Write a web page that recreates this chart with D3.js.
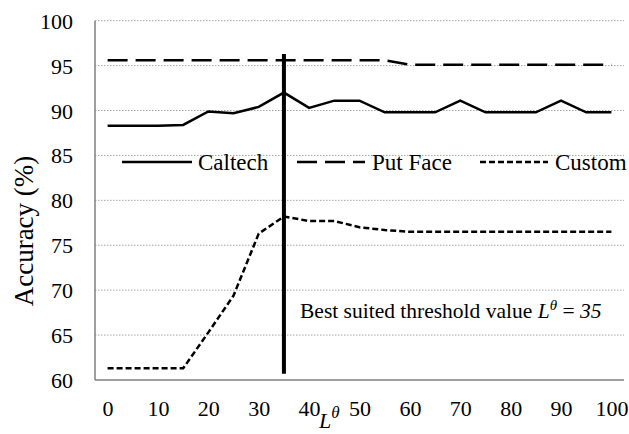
<!DOCTYPE html>
<html>
<head>
<meta charset="utf-8">
<script src="https://cdn.jsdelivr.net/npm/d3@7/dist/d3.min.js"></script>
<style>
  html, body { margin: 0; padding: 0; background: #fff; }
  svg text { font-family: "Liberation Serif", "Times New Roman", serif !important; }
</style>
</head>
<body>
<svg id="chart" width="629" height="434"></svg>
<script>
// ---- data ----
const thresholds = [0,5,10,15,20,25,30,35,40,45,50,55,60,65,70,75,80,85,90,95,100];
const caltech = [88.3,88.3,88.3,88.4,89.9,89.7,90.4,92.0,90.3,91.1,91.1,89.8,89.8,89.8,91.1,89.8,89.8,89.8,91.1,89.8,89.8];
const putFace = [95.6,95.6,95.6,95.6,95.6,95.6,95.6,95.6,95.6,95.6,95.6,95.6,95.1,95.1,95.1,95.1,95.1,95.1,95.1,95.1,95.1];
const custom  = [61.3,61.3,61.3,61.3,65.3,69.4,76.3,78.2,77.7,77.7,77.0,76.7,76.5,76.5,76.5,76.5,76.5,76.5,76.5,76.5,76.5];
const yTicks = [60,65,70,75,80,85,90,95,100];
const xTickLabels = [0,10,20,30,40,50,60,70,80,90,100];
const bestThreshold = 35;
const seriesNames = ["Caltech","Put Face","Custom"];

// ---- layout ----
const svg = d3.select("#chart");
const mLeft = 95, mRight = 624, mTop = 20.7, mBottom = 380;

const x = d3.scalePoint().domain(thresholds).range([mLeft, mRight]).padding(0.5);
const y = d3.scaleLinear().domain([60, 100]).range([mBottom, mTop]);

// gridlines
svg.append("g").selectAll("line").data(yTicks.filter(d => d > 60)).join("line")
  .attr("x1", mLeft).attr("x2", mRight)
  .attr("y1", d => y(d)).attr("y2", d => y(d))
  .attr("stroke", "#a6a6a6").attr("stroke-width", 1)
  .attr("stroke-dasharray", "1.5,1.5");

// axes lines
svg.append("line").attr("x1", mLeft).attr("x2", mLeft).attr("y1", mTop).attr("y2", mBottom)
  .attr("stroke", "#7f7f7f").attr("stroke-width", 1.5);
svg.append("line").attr("x1", mLeft).attr("x2", mRight).attr("y1", mBottom).attr("y2", mBottom)
  .attr("stroke", "#7f7f7f").attr("stroke-width", 1.5);

// y tick labels
const yAxis = d3.axisLeft(y).tickValues(yTicks).tickSize(0).tickPadding(0);
const gy = svg.append("g").attr("transform", `translate(73,0)`).call(yAxis);
gy.select(".domain").remove();
gy.attr("font-family", null);
gy.selectAll("text").attr("font-size", 22).attr("fill", "#000").attr("dy", "0.34em");

// x tick labels
const xAxis = d3.axisBottom(x).tickValues(xTickLabels).tickSize(0).tickPadding(0);
const gx = svg.append("g").attr("transform", `translate(0,416)`).call(xAxis);
gx.select(".domain").remove();
gx.attr("font-family", null);
gx.selectAll("text").attr("font-size", 22).attr("fill", "#000").attr("dy", 0);

// lines
const line = vals => d3.line().x((d, i) => x(thresholds[i])).y(d => y(d))(vals);
svg.append("path").attr("d", line(caltech)).attr("fill", "none")
  .attr("stroke", "#000").attr("stroke-width", 2.5);
svg.append("path").attr("d", line(putFace)).attr("fill", "none")
  .attr("stroke", "#000").attr("stroke-width", 2.5).attr("stroke-dasharray", "20,8");
svg.append("path").attr("d", line(custom)).attr("fill", "none")
  .attr("stroke", "#000").attr("stroke-width", 2.5).attr("stroke-dasharray", "6,3");

// best threshold vertical line
svg.append("line").attr("x1", x(bestThreshold)).attr("x2", x(bestThreshold))
  .attr("y1", y(96.3)).attr("y2", y(60.7))
  .attr("stroke", "#000").attr("stroke-width", 4);

// legend
const legendItems = [
  {name: seriesNames[0], x1: 122, x2: 192, tx: 198, dash: null},
  {name: seriesNames[1], x1: 297, x2: 365, tx: 372, dash: "20,8"},
  {name: seriesNames[2], x1: 480, x2: 548, tx: 555, dash: "6,3"}
];
const lg = svg.append("g");
legendItems.forEach(it => {
  lg.append("line").attr("x1", it.x1).attr("x2", it.x2).attr("y1", 162).attr("y2", 162)
    .attr("stroke", "#000").attr("stroke-width", 2.5)
    .attr("stroke-dasharray", it.dash);
  lg.append("text").attr("x", it.tx).attr("y", 170).attr("font-size", 23).text(it.name);
});

// annotation
const ann = svg.append("text").attr("x", 300).attr("y", 318).attr("font-size", 21.5);
ann.append("tspan").text("Best suited threshold value ");
ann.append("tspan").attr("font-style", "italic").text("L");
ann.append("tspan").attr("font-style", "italic").attr("font-size", 15).attr("dy", -8).text("θ");
ann.append("tspan").attr("dy", 8).text(" = ");
ann.append("tspan").attr("font-style", "italic").text(String(bestThreshold));

// x axis title
const xt = svg.append("text").attr("x", 319).attr("y", 428).attr("font-size", 22);
xt.append("tspan").attr("font-style", "italic").text("L");
xt.append("tspan").attr("font-style", "italic").attr("font-size", 17).attr("dy", -10).text("θ");

// y axis title
svg.append("text").attr("transform", `translate(33,231) rotate(-90)`)
  .attr("text-anchor", "middle").attr("font-size", 27).text("Accuracy (%)");
</script>
</body>
</html>
